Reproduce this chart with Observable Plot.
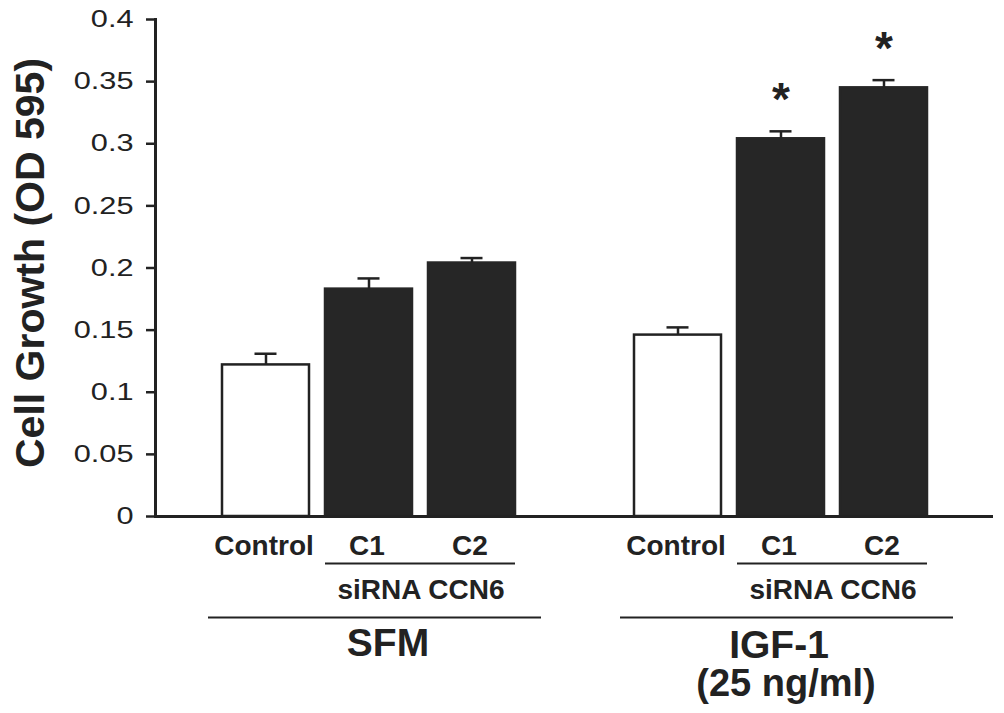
<!DOCTYPE html>
<html><head><meta charset="utf-8">
<script src="https://cdn.jsdelivr.net/npm/d3@7"></script>
<script src="https://cdn.jsdelivr.net/npm/@observablehq/plot@0.6"></script>
<style>
body{margin:0;background:#fff;font-family:"Liberation Sans",Arial,Helvetica,sans-serif}
#chart svg{display:block}
g[aria-label="category labels"] text{letter-spacing:1px}
g[aria-label="sirna labels"] text{letter-spacing:2px}
g[aria-label="group labels"] text{letter-spacing:0.5px}
</style>
</head><body><div id="chart"></div>
<script>
// ---- data ----
const groups = ["SFM","SFM","SFM","IGF-1","IGF-1","IGF-1"];
const treatments = ["Control","C1","C2","Control","C1","C2"];
const values = [0.122,0.183,0.204,0.146,0.304,0.345];
const errors = [0.009,0.0086,0.004,0.0062,0.006,0.0062];
const significance = ["","","","","*","*"];
const groupNames = ["SFM","IGF-1"];
const groupSubtitles = ["","(25 ng/ml)"];
const siRNALabel = "siRNA CCN6";
const yTicks = [0,0.05,0.1,0.15,0.2,0.25,0.3,0.35,0.4];
const yTickLabels = ["0","0.05","0.1","0.15","0.2","0.25","0.3","0.35","0.4"];
const yLabel = "Cell Growth (OD 595)";

// ---- build table ----
const data = groups.map((g,i)=>({group:g, treatment:treatments[i], key:g+" "+treatments[i],
  value:values[i], err:errors[i], sig:significance[i]}));
const SPACER = "\u2009";
const domain = [...data.filter(d=>d.group===groupNames[0]).map(d=>d.key), SPACER,
                ...data.filter(d=>d.group===groupNames[1]).map(d=>d.key)];

const INK = "#222";
const DARK = "#262626";
const FONT = "Liberation Sans, Arial, Helvetica, sans-serif";
const groupDx = {"SFM":19, "IGF-1":-2};
const groupDy = {"SFM":127, "IGF-1":129};
const below = {frameAnchor:"bottom", lineAnchor:"middle", textAnchor:"middle", fill:INK, fontWeight:"bold"};

const plot = Plot.plot({
  width:1004, height:713,
  marginLeft:155, marginRight:11, marginTop:19, marginBottom:197,
  style:{fontFamily:FONT, color:INK, background:"#fff"},
  x:{type:"band", domain, paddingInner:0.16, paddingOuter:0.62, axis:null},
  y:{domain:[0,0.4], axis:null},
  marks:[
    Plot.axisY({ticks:yTicks, tickFormat:(d)=>yTickLabels[yTicks.indexOf(d)], tickSize:9, tickPadding:13,
      fontSize:24, strokeWidth:2.5, stroke:INK, fill:INK, label:null}),
    Plot.frame({anchor:"left", stroke:INK, strokeWidth:3}),
    Plot.barY(data, {x:"key", y:"value", fill:d=>d.treatment==="Control"?"#fff":DARK,
      stroke:d=>d.treatment==="Control"?INK:DARK, strokeWidth:2.5}),
    Plot.ruleX(data, {x:"key", y1:"value", y2:d=>d.value+d.err, stroke:INK, strokeWidth:2.5}),
    Plot.tickY(data, {x:"key", y:d=>d.value+d.err, stroke:INK, strokeWidth:2.5, insetLeft:32.5, insetRight:32.5}),
    Plot.text(data.filter(d=>d.sig), {x:"key", y:d=>d.value+d.err, text:"sig", dy:-31,
      fontSize:46, fontWeight:"bold", fill:INK}),
    Plot.ruleY([0], {stroke:INK, strokeWidth:3}),
    // category labels
    Plot.text(data, {...below, x:"key", text:"treatment", dy:30, dx:-2,
      fontSize:28, ariaLabel:"category labels"}),
    // siRNA underline + label
    Plot.ruleY(groupNames, {y:()=>0, x1:g=>g+" C1", x2:g=>g+" C2", dy:47, stroke:INK, strokeWidth:2}),
    Plot.text(groupNames, {...below, x:g=>g+" C1", text:()=>siRNALabel, dy:74, dx:52,
      fontSize:28, ariaLabel:"sirna labels"}),
    // group underline
    Plot.ruleY(groupNames, {y:()=>0, x1:g=>g+" Control", x2:g=>g+" C2", dy:101,
      insetLeft:-14, insetRight:-26, stroke:INK, strokeWidth:2}),
    ...groupNames.map((g)=>Plot.text([g], {...below, x:d=>d+" C1", text:d=>d,
      dy:groupDy[g], dx:groupDx[g], fontSize:39, ariaLabel:"group labels"})),
    Plot.text(groupNames.filter((g,i)=>groupSubtitles[i]), {...below, x:g=>g+" C1",
      text:g=>groupSubtitles[groupNames.indexOf(g)], dy:167, dx:5,
      fontSize:38, ariaLabel:"group labels"}),
    // y label
    Plot.text([yLabel], {text:d=>d, frameAnchor:"left", textAnchor:"middle", lineAnchor:"middle",
      rotate:-90, dx:-125, dy:-5, fontSize:41, fontWeight:"bold", fill:INK})
  ]
});
document.getElementById("chart").appendChild(plot);
// stretch y tick labels horizontally like the original typeface
d3.select(plot).selectAll('g[aria-label="y-axis tick label"] text').each(function(){
  const t = d3.select(this); const tr = t.attr("transform")||"";
  t.attr("transform", tr+" scale(1.28,1)");
});
</script>
</body></html>
